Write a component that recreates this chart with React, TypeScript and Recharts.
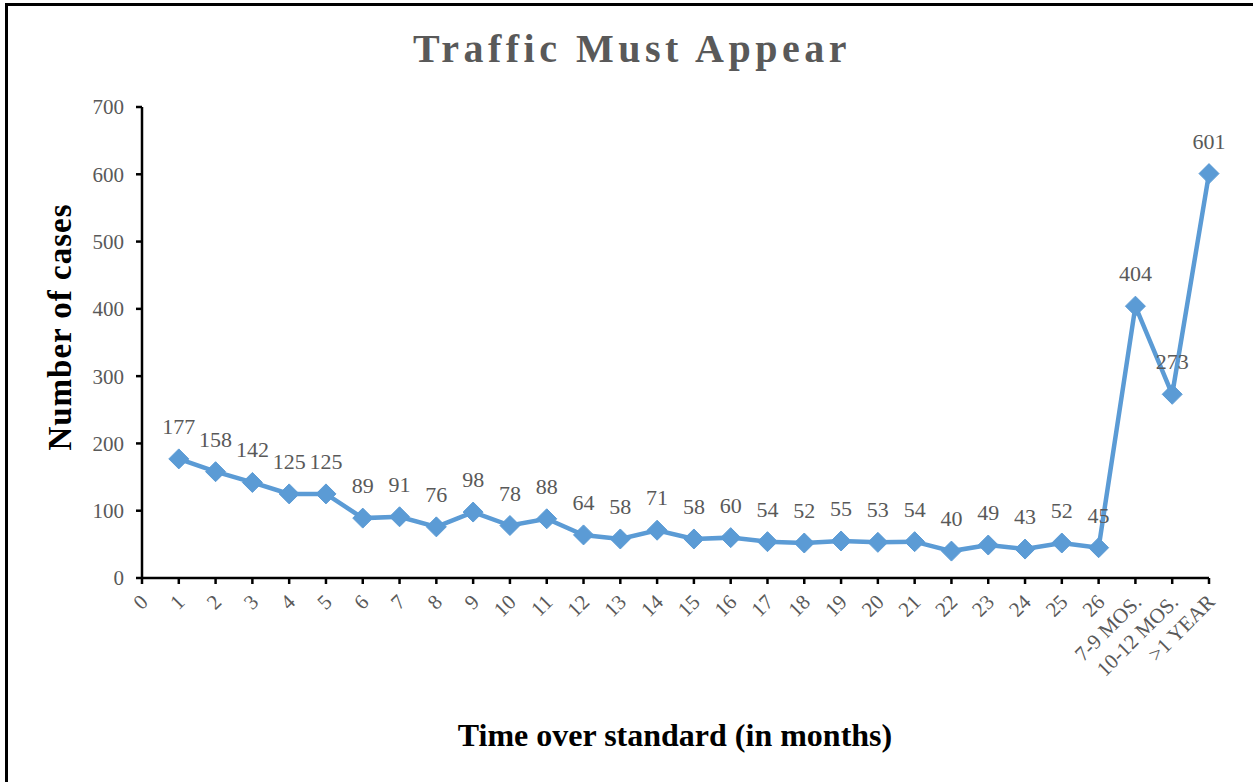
import React from 'react'
import { LineChart, Line, XAxis, YAxis, LabelList } from 'recharts'

const categories = [
  '0', '1', '2', '3', '4', '5', '6', '7', '8', '9', '10', '11', '12', '13', '14',
  '15', '16', '17', '18', '19', '20', '21', '22', '23', '24', '25', '26',
  '7-9 MOS.', '10-12 MOS.', '>1 YEAR',
]

const cases: (number | null)[] = [
  null, 177, 158, 142, 125, 125, 89, 91, 76, 98, 78, 88, 64, 58, 71,
  58, 60, 54, 52, 55, 53, 54, 40, 49, 43, 52, 45,
  404, 273, 601,
]

const yTicks = [0, 100, 200, 300, 400, 500, 600, 700]

const data = categories.map((name, i) => ({ name, cases: cases[i] }))

const FONT = '"Liberation Serif", "Times New Roman", serif'
const GRAY = '#595959'
const BLUE = '#5B9BD5'

const Diamond = ({ cx, cy, value }: any) => {
  if (value == null || cx == null || cy == null) return null
  const r = 10
  return (
    <polygon
      points={`${cx},${cy - r} ${cx + r},${cy} ${cx},${cy + r} ${cx - r},${cy}`}
      fill={BLUE}
      stroke={BLUE}
    />
  )
}

const XTick = ({ x, y, payload }: any) => (
  <g transform={`translate(${x + 2},${y + 12})`}>
    <text
      x={0}
      y={0}
      textAnchor="end"
      transform="rotate(-45)"
      fill={GRAY}
      fontSize={21}
      fontFamily={FONT}
      dy="0.35em"
    >
      {payload.value}
    </text>
  </g>
)

const PointLabel = ({ x, y, value }: any) => {
  if (value == null) return null
  return (
    <text x={x} y={y - 25} textAnchor="middle" fill={GRAY} fontSize={22} fontFamily={FONT}>
      {value}
    </text>
  )
}

export default function App() {
  return (
    <div style={{ position: 'absolute', left: 0, top: 0, width: 1253, height: 782, background: '#fff', overflow: 'hidden' }}>
      <div
        style={{
          position: 'absolute',
          left: 5,
          top: 3,
          width: 1300,
          height: 900,
          borderTop: '3px solid #000',
          borderLeft: '3px solid #000',
        }}
      />
      <div
        style={{
          position: 'absolute',
          left: 0,
          width: 1264,
          top: 24,
          textAlign: 'center',
          fontFamily: FONT,
          fontWeight: 'bold',
          fontSize: 40,
          letterSpacing: 4.5,
          color: GRAY,
          lineHeight: '50px',
        }}
      >
        Traffic Must Appear
      </div>
      <div
        style={{
          position: 'absolute',
          left: 675 - 300,
          width: 600,
          top: 715,
          textAlign: 'center',
          fontFamily: FONT,
          fontWeight: 'bold',
          fontSize: 32,
          color: '#000',
          lineHeight: '40px',
        }}
      >
        Time over standard (in months)
      </div>
      <div
        style={{
          position: 'absolute',
          left: 60 - 200,
          width: 400,
          top: 327 - 20,
          textAlign: 'center',
          fontFamily: FONT,
          fontWeight: 'bold',
          fontSize: 33,
          letterSpacing: 1,
          color: '#000',
          lineHeight: '40px',
          transform: 'rotate(-90deg)',
        }}
      >
        Number of cases
      </div>
      <div style={{ position: 'absolute', left: 0, top: 0 }}>
        <LineChart
          width={1253}
          height={782}
          data={data}
          margin={{ top: 107, right: 44, left: 0, bottom: 94 }}
        >
          <XAxis
            dataKey="name"
            interval={0}
            height={110}
            tick={<XTick />}
            tickSize={6}
            axisLine={{ stroke: '#000', strokeWidth: 2.5 }}
            tickLine={{ stroke: '#000', strokeWidth: 2.5 }}
          />
          <YAxis
            width={142}
            domain={[0, 700]}
            ticks={yTicks}
            interval={0}
            tickSize={6}
            tickMargin={12}
            axisLine={{ stroke: '#000', strokeWidth: 2.5 }}
            tickLine={{ stroke: '#000', strokeWidth: 2.5 }}
            tick={{ fill: GRAY, fontSize: 21, fontFamily: FONT }}
          />
          <Line
            dataKey="cases"
            stroke={BLUE}
            strokeWidth={4.5}
            dot={<Diamond />}
            activeDot={false}
            connectNulls={false}
            isAnimationActive={false}
          >
            <LabelList dataKey="cases" content={<PointLabel />} />
          </Line>
        </LineChart>
      </div>
    </div>
  )
}
